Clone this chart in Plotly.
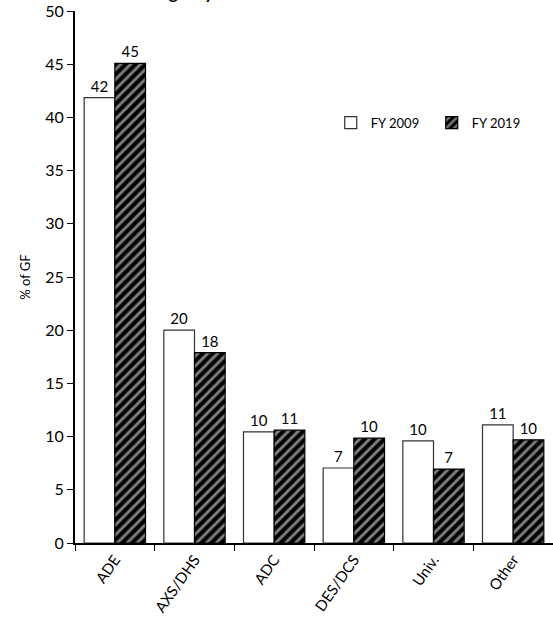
import plotly.graph_objects as go

# Share of the General Fund by agency, FY 2009 vs FY 2019
categories = ["ADE", "AXS/DHS", "ADC", "DES/DCS", "Univ.", "Other"]
fy2009 = [41.85, 20.0, 10.45, 7.05, 9.6, 11.1]
fy2019 = [45.08, 17.9, 10.6, 9.85, 6.95, 9.7]
y_ticks = [0, 5, 10, 15, 20, 25, 30, 35, 40, 45, 50]

FONT = "Lato, 'Open Sans', sans-serif"

fig = go.Figure()
fig.add_trace(go.Bar(
    x=categories, y=fy2009, name="FY 2009",
    marker=dict(color="white", line=dict(color="#333333", width=1.2)),
    texttemplate="%{y:.0f}", textposition="outside",
    textfont=dict(size=15, color="black", family=FONT),
    cliponaxis=False,
))
fig.add_trace(go.Bar(
    x=categories, y=fy2019, name="FY 2019",
    marker=dict(color="black", line=dict(color="black", width=1.2),
                pattern=dict(shape="/", fgcolor="white", bgcolor="black",
                             size=7, solidity=0.42)),
    texttemplate="%{y:.0f}", textposition="outside",
    textfont=dict(size=15, color="black", family=FONT),
    cliponaxis=False,
))

# Chart title, set above the plotting area
fig.add_annotation(
    text="<b>Agency Share</b>", xref="paper", yref="paper",
    x=0.165, y=1.0115, xanchor="left", yanchor="bottom", showarrow=False,
    font=dict(size=17, color="black", family=FONT),
)

fig.update_layout(
    width=553, height=627,
    margin=dict(l=75, r=0, t=11, b=84, autoexpand=False),
    paper_bgcolor="white", plot_bgcolor="white",
    font=dict(family=FONT, color="black"),
    barmode="group", bargap=0.23, bargroupgap=0,
    showlegend=True,
    legend=dict(orientation="h", x=0.535, y=0.79, xanchor="left", yanchor="middle",
                font=dict(size=13, family=FONT), entrywidth=56,
                bgcolor="rgba(0,0,0,0)", itemclick=False),
    xaxis=dict(
        showline=True, linecolor="black", linewidth=2,
        ticks="outside", tickson="boundaries", ticklen=6, tickcolor="black", tickwidth=1.2,
        tickangle=-55, tickfont=dict(size=15, family=FONT),
        showgrid=False,
    ),
    yaxis=dict(
        range=[0, 50], tickvals=y_ticks,
        showline=True, linecolor="black", linewidth=2,
        ticks="outside", ticklen=6, tickcolor="black", tickwidth=1.2,
        tickfont=dict(size=16, family=FONT), showgrid=False, zeroline=False,
        title=dict(text="% of GF", font=dict(size=13, family=FONT), standoff=12),
    ),
)

fig.write_html("out.html")
